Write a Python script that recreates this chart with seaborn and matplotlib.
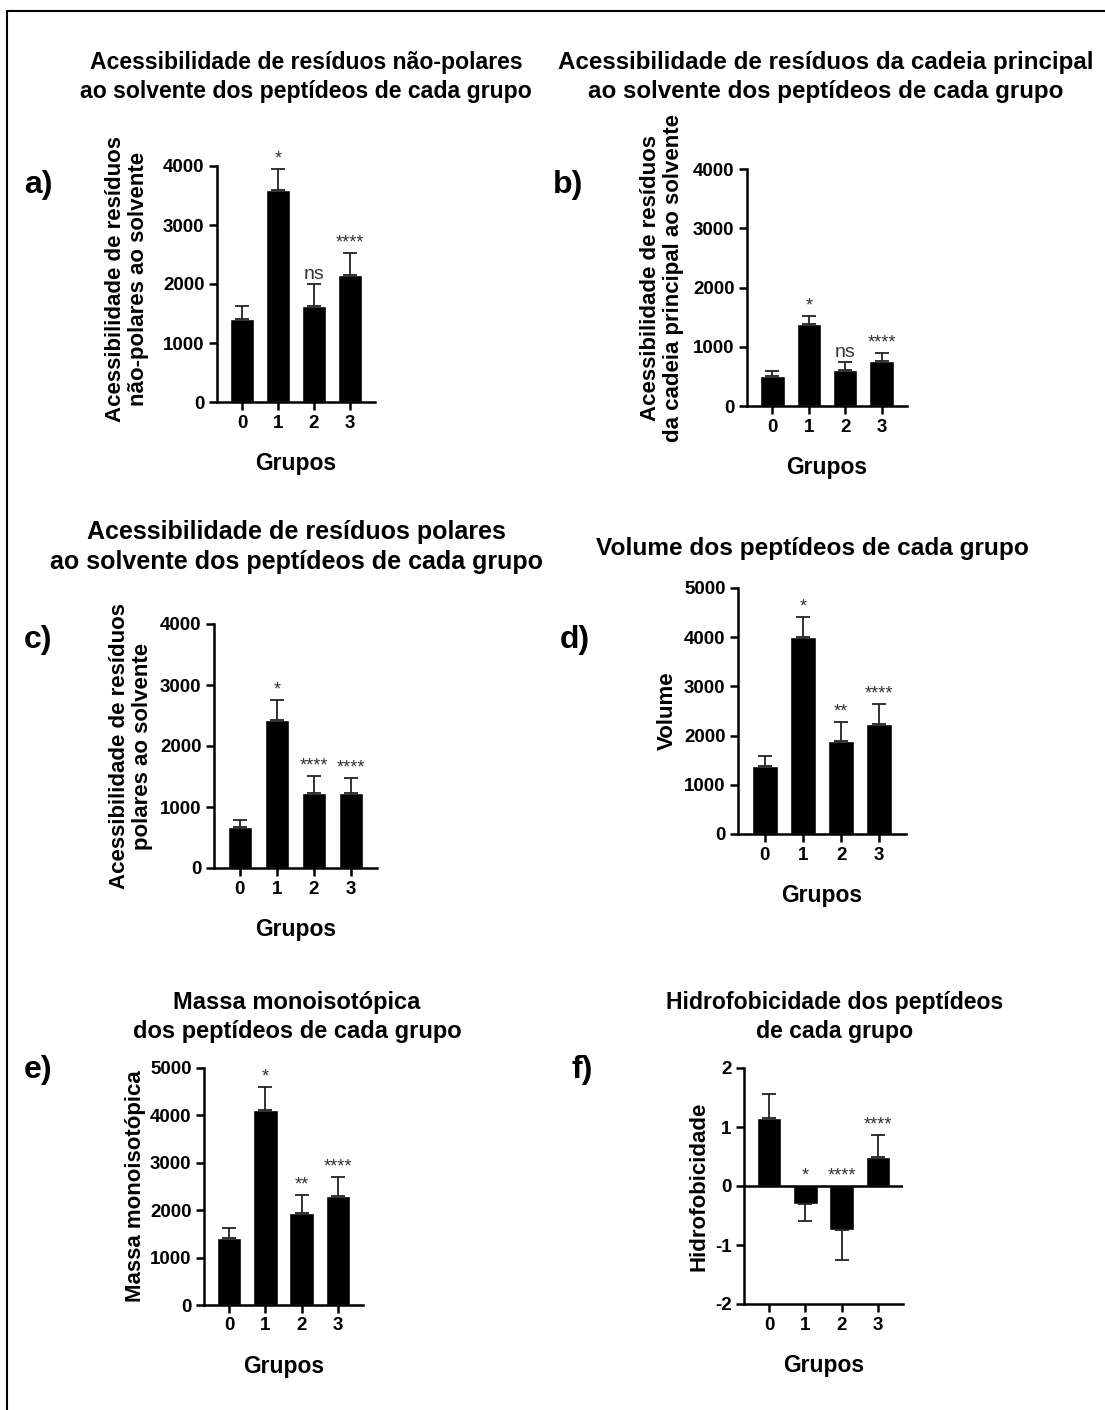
import numpy as np
import pandas as pd
import matplotlib.pyplot as plt
import seaborn as sb
from matplotlib.lines import Line2D

# data (mean and upper error)
groups = ['0', '1', '2', '3']

nonpolar = [1400, 3600, 1635, 2145]
nonpolar_err = [235, 345, 365, 385]
nonpolar_sig = ['', '*', 'ns', '****']

mainchain = [507, 1386, 603, 760]
mainchain_err = [85, 135, 135, 136]
mainchain_sig = ['', '*', 'ns', '****']

polar = [667, 2432, 1230, 1230]
polar_err = [114, 328, 273, 245]
polar_sig = ['', '*', '****', '****']

volume = [1389, 3997, 1890, 2229]
volume_err = [203, 414, 393, 420]
volume_sig = ['', '*', '**', '****']

mass = [1415, 4113, 1944, 2296]
mass_err = [219, 486, 387, 408]
mass_sig = ['', '*', '**', '****']

hydro = [1.15, -0.30, -0.74, 0.49]
hydro_err = [0.41, 0.29, 0.52, 0.38]
hydro_sig = ['', '*', '****', '****']

sb.set_style('ticks')
plt.rcParams['font.family'] = ['Liberation Sans', 'DejaVu Sans']
plt.rcParams['font.weight'] = 'bold'
plt.rcParams['axes.unicode_minus'] = False
for k in ['text.color', 'axes.labelcolor', 'xtick.color', 'ytick.color', 'axes.edgecolor']:
    plt.rcParams[k] = 'black'

W, H = 1105, 1410
fig = plt.figure(figsize=(W / 100, H / 100), dpi=100)


def rect(l, r, t, b):
    return [l / W, 1 - b / H, (r - l) / W, (b - t) / H]


def panel(box, vals, errs, sigs, ylim, yticks, ylabel, lab_xy):
    ax = fig.add_axes(rect(*box))
    df = pd.DataFrame({'Grupos': groups, 'val': vals})
    sb.barplot(data=df, x='Grupos', y='val', color='black', saturation=1,
               width=0.67, ax=ax, errorbar=None)
    vals = np.array(vals)
    errs = np.array(errs)
    up = np.where(vals >= 0, errs, 0)
    lo = np.where(vals < 0, errs, 0)
    ax.errorbar(range(len(groups)), vals, yerr=[lo, up], fmt='none',
                ecolor='#222222', elinewidth=1.3, capsize=5, capthick=1.3)
    for i, s in enumerate(sigs):
        if not s:
            continue
        y = vals[i] + errs[i] if vals[i] >= 0 else 0
        fs = 14 if s == 'ns' else 13
        ax.annotate(s, (i, y), xytext=(0, 1), textcoords='offset points',
                    ha='center', va='bottom', fontsize=fs, fontweight='normal',
                    color='#333333', annotation_clip=False)
    ax.set_xlim(-0.7, 3.7)
    ax.set_ylim(*ylim)
    ax.set_yticks(yticks)
    ax.set_xlabel('Grupos', fontsize=16.5, fontweight='bold', labelpad=15)
    ax.set_ylabel(ylabel, fontsize=16, fontweight='bold', va='center',
                  linespacing=1.1)
    ax.yaxis.set_label_coords(*lab_xy)
    sb.despine(ax=ax)
    for sp in ['left', 'bottom']:
        ax.spines[sp].set_linewidth(1.8)
    ax.tick_params(width=1.8, length=6, labelsize=13.5, pad=3)
    for t in ax.get_xticklabels() + ax.get_yticklabels():
        t.set_fontweight('bold')
    return ax


panel((217, 375, 166, 402), nonpolar, nonpolar_err, nonpolar_sig,
      (0, 4000), [0, 1000, 2000, 3000, 4000],
      'Acessibilidade de resíduos\nnão-polares ao solvente', (-0.57, 0.52))
panel((747, 907, 169, 406), mainchain, mainchain_err, mainchain_sig,
      (0, 4000), [0, 1000, 2000, 3000, 4000],
      'Acessibilidade de resíduos\nda cadeia principal ao solvente', (-0.53, 0.54))
panel((214, 377, 624, 868), polar, polar_err, polar_sig,
      (0, 4000), [0, 1000, 2000, 3000, 4000],
      'Acessibilidade de resíduos\npolares ao solvente', (-0.51, 0.5))
panel((738, 906, 588, 834), volume, volume_err, volume_sig,
      (0, 5000), [0, 1000, 2000, 3000, 4000, 5000],
      'Volume', (-0.42, 0.5))
panel((204, 363, 1068, 1305), mass, mass_err, mass_sig,
      (0, 5000), [0, 1000, 2000, 3000, 4000, 5000],
      'Massa monoisotópica', (-0.43, 0.5))
axf = panel((744, 903, 1068, 1304), hydro, hydro_err, hydro_sig,
            (-2, 2), [-2, -1, 0, 1, 2],
            'Hidrofobicidade', (-0.28, 0.5))
axf.axhline(0, color='black', lw=1.8, zorder=5)

titles = [
    ('Acessibilidade de resíduos não-polares\nao solvente dos peptídeos de cada grupo', 306, 77, 16.6),
    ('Acessibilidade de resíduos da cadeia principal\nao solvente dos peptídeos de cada grupo', 826, 77, 17.4),
    ('Acessibilidade de resíduos polares\nao solvente dos peptídeos de cada grupo', 296, 547, 18.0),
    ('Volume dos peptídeos de cada grupo', 812, 548, 17.6),
    ('Massa monoisotópica\ndos peptídeos de cada grupo', 297, 1017, 17.0),
    ('Hidrofobicidade dos peptídeos\nde cada grupo', 835, 1017, 16.6),
]
for txt, x, y, fs in titles:
    fig.text(x / W, 1 - y / H, txt, ha='center', va='center', fontsize=fs,
             fontweight='bold', linespacing=1.3)

letters = [('a)', 38, 185), ('b)', 568, 185), ('c)', 38, 640),
           ('d)', 575, 640), ('e)', 38, 1070), ('f)', 582, 1070)]
for txt, x, y in letters:
    fig.text(x / W, 1 - y / H, txt, ha='center', va='center', fontsize=23,
             fontweight='bold')

# frame lines (left and top)
fig.add_artist(Line2D([7 / W, 7 / W], [0, 1 - 11 / H], color='black', lw=1.5))
fig.add_artist(Line2D([7 / W, 1], [1 - 11 / H, 1 - 11 / H], color='black', lw=1.5))

fig.savefig('out.png', dpi=100)
